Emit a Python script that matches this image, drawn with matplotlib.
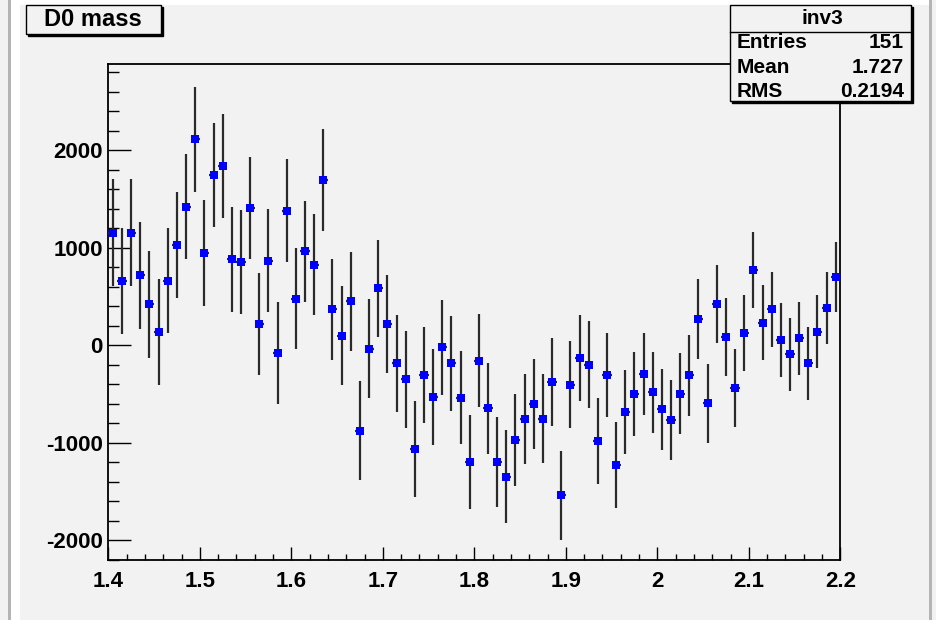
import numpy as np
import matplotlib
matplotlib.use("Agg")
import matplotlib.pyplot as plt
from matplotlib.patches import Rectangle

# ---- data ----
bin_lo = 1.4
bin_width = 0.01
counts = [1152, 660, 1152, 714, 417, 137, 660, 1026, 1419, 2109,
          947, 1744, 1836, 879, 851, 1405, 215, 865, -79, 1378,
          472, 961, 824, 1689, 366, 96, 448, -879, -38, 581,
          215, -188, -352, -1067, -311, -530, -24, -188, -540, -1203,
          -161, -650, -1203, -1350, -974, -755, -605, -755, -379, -1542,
          -407, -133, -202, -985, -311, -1231, -687, -499, -297, -486,
          -660, -769, -499, -311, 270, -595, 421, 82, -444, 123,
          769, 229, 366, 55, -96, 68, -188, 137, 379, 701]
errors = [547, 545, 547, 545, 547, 545, 538, 542, 538, 538,
          542, 538, 532, 538, 533, 525, 526, 525, 525, 525,
          518, 520, 520, 523, 520, 511, 506, 508, 508, 499,
          499, 499, 499, 494, 492, 492, 487, 485, 479, 484,
          474, 470, 463, 474, 467, 462, 458, 455, 451, 453,
          444, 439, 444, 444, 432, 438, 432, 431, 419, 419,
          419, 410, 412, 412, 412, 405, 398, 397, 398, 391,
          390, 385, 385, 378, 378, 371, 371, 371, 366, 360]
x_ticks = [1.4, 1.5, 1.6, 1.7, 1.8, 1.9, 2.0, 2.1, 2.2]
x_tick_labels = ["1.4", "1.5", "1.6", "1.7", "1.8", "1.9", "2", "2.1", "2.2"]
y_ticks = [-2000, -1000, 0, 1000, 2000]
title = "D0 mass"
stats_name = "inv3"
stats_rows = [("Entries", "151"), ("Mean", "1.727"), ("RMS", "0.2194")]

W, H = 937, 620
BG = "#f2f2f2"
FONT = "Liberation Sans"

fig = plt.figure(figsize=(W / 100, H / 100), dpi=100, facecolor=BG)

def fx(px):
    return px / W

def fy(py):
    return 1 - py / H

# canvas border decorations
fig.patches.append(Rectangle((fx(11), 0), fx(918), 1, transform=fig.transFigure,
                             facecolor="white", edgecolor="none", zorder=-10))
fig.patches.append(Rectangle((fx(20), 0), fx(909), fy(5), transform=fig.transFigure,
                             facecolor=BG, edgecolor="none", zorder=-9))
fig.patches.append(Rectangle((fx(8), 0), fx(3), 1, transform=fig.transFigure,
                             facecolor="#b4b4b4", edgecolor="none", zorder=-8))
fig.patches.append(Rectangle((fx(929), 0), fx(3), 1, transform=fig.transFigure,
                             facecolor="#b4b4b4", edgecolor="none", zorder=-8))

# axes frame
left, right, top, bottom = 108.3, 840.3, 64.3, 560.0
ax = fig.add_axes([fx(left), fy(bottom), fx(right - left), (bottom - top) / H])
ax.set_facecolor(BG)
ax.set_zorder(1)

centers = bin_lo + bin_width * (np.arange(len(counts)) + 0.5)
ax.errorbar(centers, counts, yerr=errors, xerr=bin_width / 2, fmt="s",
            color="#0000ff", markersize=5.6, markeredgewidth=0,
            ecolor="#2a2a2a", elinewidth=1.6, capsize=0, zorder=3)

ax.set_xlim(1.4, 2.2)
ax.set_ylim(-2205, 2879)

ax.set_xticks(x_ticks)
ax.set_xticklabels(x_tick_labels)
ax.set_xticks(np.arange(1.4, 2.2001, 0.02), minor=True)
ax.set_yticks(y_ticks)
ax.set_yticklabels([str(v) for v in y_ticks])
ax.set_yticks(np.arange(-2200, 2801, 200), minor=True)

ax.tick_params(axis="x", which="major", direction="in", length=9.4, width=1.0,
               pad=8, labelsize=16)
ax.tick_params(axis="x", which="minor", direction="in", length=4.5, width=1.0)
ax.tick_params(axis="y", which="major", direction="in", length=16.5, width=1.0,
               pad=4, labelsize=16)
ax.tick_params(axis="y", which="minor", direction="in", length=8, width=1.0)
for lab in ax.get_xticklabels() + ax.get_yticklabels():
    lab.set_fontfamily(FONT)
    lab.set_fontweight("bold")
for sp in ax.spines.values():
    sp.set_linewidth(1.3)
    sp.set_color("black")

# ROOT-like pave with shadow
def pave(x0, y0, x1, y1):
    fig.patches.append(Rectangle((fx(x0 + 2), fy(y1 + 2)), fx(x1 - x0), (y1 - y0) / H,
                                 transform=fig.transFigure, facecolor="black",
                                 edgecolor="black", zorder=5))
    fig.patches.append(Rectangle((fx(x0), fy(y1)), fx(x1 - x0), (y1 - y0) / H,
                                 transform=fig.transFigure, facecolor=BG,
                                 edgecolor="black", linewidth=1.0, zorder=6))

pave(25.7, 5, 161, 34)
fig.text(fx(93), fy(20), title, ha="center", va="center", fontsize=17,
         fontweight="bold", family=FONT, zorder=7)

# stats box
pave(730, 5, 911, 101)
fig.add_artist(plt.Line2D([fx(730), fx(911)], [fy(31.5), fy(31.5)],
                          transform=fig.transFigure, color="black", lw=1.0, zorder=7))
fig.text(fx(822), fy(18), stats_name, ha="center", va="center", fontsize=15,
         fontweight="bold", family=FONT, zorder=7)
row_y = [43, 67.5, 91.5]
for (k, v), yy in zip(stats_rows, row_y):
    fig.text(fx(737), fy(yy), k, ha="left", va="center", fontsize=15,
             fontweight="bold", family=FONT, zorder=7)
    fig.text(fx(904), fy(yy), v, ha="right", va="center", fontsize=15,
             fontweight="bold", family=FONT, zorder=7)

fig.savefig("out.png", dpi=100, facecolor=BG)
